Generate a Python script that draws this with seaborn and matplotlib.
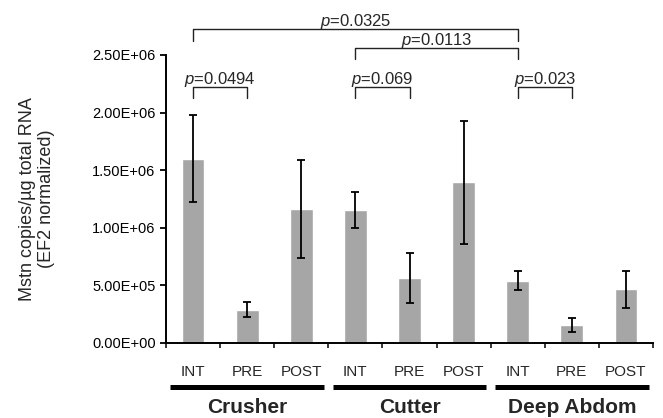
import numpy as np
import pandas as pd
import matplotlib
matplotlib.use("Agg")
import matplotlib.pyplot as plt
import matplotlib.transforms as mtransforms
import seaborn as sns

# ---- data ----
groups = ["Crusher", "Cutter", "Deep Abdom"]
phases = ["INT", "PRE", "POST"]
means = [1.60e6, 0.289e6, 1.165e6, 1.152e6, 0.562e6, 1.394e6, 0.541e6, 0.156e6, 0.466e6]
errors = [0.38e6, 0.064e6, 0.425e6, 0.156e6, 0.218e6, 0.531e6, 0.083e6, 0.061e6, 0.160e6]
yticks = [0, 5e5, 1e6, 1.5e6, 2e6, 2.5e6]
# comparisons: (left bar index, right bar index, p value text, bracket height)
comparisons = [
    (0, 6, "0.0325", 2.723e6),
    (3, 6, "0.0113", 2.563e6),
    (0, 1, "0.0494", 2.225e6),
    (3, 4, "0.069", 2.225e6),
    (6, 7, "0.023", 2.225e6),
]

keys = [f"{g} {p}" for g in groups for p in phases]
df = pd.DataFrame({"cond": keys, "value": means, "err": errors})

sns.set_style("ticks")
plt.rcParams["font.family"] = ["Liberation Sans", "DejaVu Sans"]
plt.rcParams["mathtext.fontset"] = "custom"
plt.rcParams["mathtext.rm"] = "Liberation Sans"
plt.rcParams["mathtext.it"] = "Liberation Sans:italic"

fig = plt.figure(figsize=(6.63, 4.18), dpi=100)
ax = fig.add_axes([166 / 663, 75 / 418, (653 - 166) / 663, (343 - 55) / 418])

sns.barplot(data=df, x="cond", y="value", order=keys, color="#A6A6A6",
            saturation=1, width=0.42, errorbar=None, ax=ax, zorder=2)
ax.errorbar(np.arange(len(keys)), df["value"], yerr=df["err"], fmt="none",
            ecolor="black", elinewidth=1.3, capsize=3, capthick=1.3, zorder=3)

ax.set_xlim(-0.5, len(keys) - 0.5)
ax.set_ylim(0, 2.5e6)
ax.set_yticks(yticks)
ax.set_yticklabels([f"{v:.2E}" for v in yticks], fontsize=10.5)
ax.set_xticks(np.arange(-0.5, len(keys), 1))
ax.set_xticklabels([])
ax.tick_params(axis="y", length=4.5, width=1.3, pad=3.0, colors="black")
ax.tick_params(axis="x", length=3.5, width=1.3, direction="out")
ax.set_xlabel("")
for s in ["top", "right"]:
    ax.spines[s].set_visible(False)
for s in ["left", "bottom"]:
    ax.spines[s].set_linewidth(1.4)
    ax.spines[s].set_color("black")

ax.set_ylabel("Mstn copies/µg total RNA\n(EF2 normalized)", fontsize=13, linespacing=1.15)
ax.yaxis.set_label_coords(-0.228, 0.5)

trans = mtransforms.blended_transform_factory(ax.transData, ax.transAxes)
for i, k in enumerate(keys):
    ax.text(i, -0.1146, phases[i % 3], transform=trans, ha="center",
            va="baseline", fontsize=11)
for gi, g in enumerate(groups):
    start = gi * 3
    ax.plot([start - 0.42, start + 2.42], [-0.153, -0.153], transform=trans,
            color="black", lw=3.6, solid_capstyle="butt", clip_on=False)
    ax.text(start + 1, -0.243, g, transform=trans, ha="center", va="baseline",
            fontsize=15, fontweight="bold")

leg = 0.1e6
for a, b, ptxt, h in comparisons:
    ax.plot([a, a, b, b], [h - leg, h, h, h - leg], color="#222222", lw=1.0,
            clip_on=False, zorder=4)
    ax.text((a + b) / 2, h + 0.026e6, f"$p$=" + ptxt, ha="center",
            va="baseline", fontsize=12, clip_on=False)

fig.savefig("out.png", dpi=100)
